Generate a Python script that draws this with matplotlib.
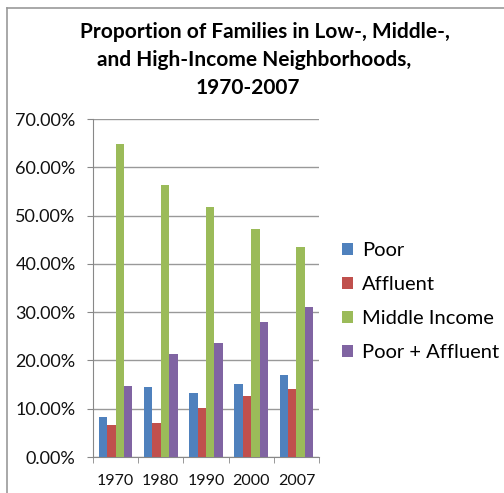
import matplotlib
matplotlib.use("Agg")
import matplotlib.pyplot as plt
import numpy as np
from matplotlib.ticker import FuncFormatter
from matplotlib.lines import Line2D

years = ["1970", "1980", "1990", "2000", "2007"]
poor = [8.3, 14.4, 13.3, 15.2, 16.9]
affluent = [6.6, 7.1, 10.2, 12.6, 14.0]
middle = [64.8, 56.4, 51.7, 47.2, 43.4]
poor_affluent = [14.8, 21.4, 23.7, 27.9, 31.1]

series = [("Poor", poor, "#4F81BD"),
          ("Affluent", affluent, "#C0504D"),
          ("Middle Income", middle, "#9BBB59"),
          ("Poor + Affluent", poor_affluent, "#8064A2")]

plt.rcParams['font.family'] = ['Lato', 'DejaVu Sans']

fig = plt.figure(figsize=(5.04, 4.93), dpi=100)
ax = fig.add_axes([93/504, 1 - 457/493, (319 - 93)/504, (457 - 119)/493])

x = np.arange(len(years))
w = 0.185
for i, (name, vals, col) in enumerate(series):
    ax.bar(x + (i - 1.5) * w, vals, width=w, color=col, label=name, zorder=3)

ax.set_xlim(-0.5, len(years) - 0.5)
ax.set_ylim(0, 70)
ax.set_yticks(np.arange(0, 71, 10))
ax.yaxis.set_major_formatter(FuncFormatter(lambda v, p: f"{v:.2f}%"))
ax.set_xticks(x)
ax.set_xticklabels(years)
ax.set_xticks(np.arange(-0.5, len(years), 1), minor=True)
ax.tick_params(axis='x', which='major', length=0, labelsize=11.5, pad=12, colors='#111111')
ax.tick_params(axis='x', which='minor', length=4.5, color='#888888', direction='out')
ax.tick_params(axis='y', length=4.5, labelsize=13, pad=8, colors='#111111')
ax.tick_params(axis='y', color='#888888')
ax.grid(axis='y', color='#999999', linewidth=1, zorder=0)
for s in ['top', 'right']:
    ax.spines[s].set_visible(False)
ax.spines['left'].set_color('#888888')
ax.spines['bottom'].set_color('#888888')

leg = fig.legend(loc='upper left', bbox_to_anchor=(334/504, 1 - 234/493), frameon=False,
                 fontsize=14.5, handlelength=0.55, handleheight=0.55, handletextpad=0.45,
                 labelspacing=0.85, borderaxespad=0)

fig.text(265/504, 1 - 32/493, "Proportion of Families in Low-, Middle-,", ha='center', va='center',
         fontsize=15, fontweight='bold')
fig.text(254/504, 1 - 60/493, "and High-Income Neighborhoods,", ha='center', va='center',
         fontsize=15, fontweight='bold')
fig.text(248/504, 1 - 88/493, "1970-2007", ha='center', va='center',
         fontsize=15, fontweight='bold')

# outer frame lines (top and left)
fig.add_artist(Line2D([7/504, 1], [1 - 8/493, 1 - 8/493], color='#999999', linewidth=1.2,
                      transform=fig.transFigure))
fig.add_artist(Line2D([7/504, 7/504], [0, 1 - 8/493], color='#999999', linewidth=1.2,
                      transform=fig.transFigure))

fig.savefig("out.png", dpi=100)
